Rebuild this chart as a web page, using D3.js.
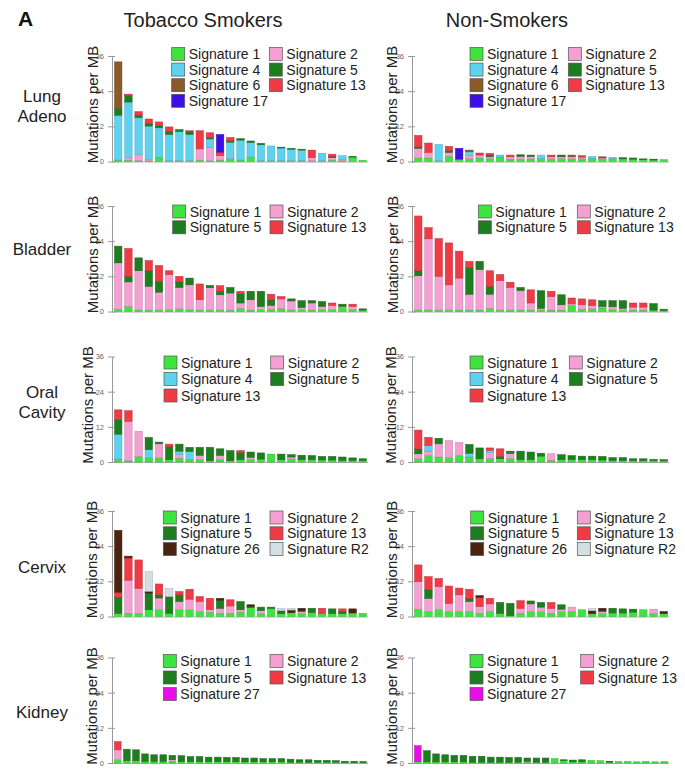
<!DOCTYPE html>
<html><head><meta charset="utf-8">
<script src="https://cdn.jsdelivr.net/npm/d3@7"></script>
<style>
body{margin:0;background:#fff;}
svg{display:block;font-family:"Liberation Sans",Arial,Helvetica,sans-serif;}
</style>
</head><body>
<svg id="chart" width="685" height="771"></svg>
<script>
// ---------- DATA ----------
const stackOrder = ["1","2","4","5","13","17","26","R2","6","27"]; // bottom -> top
const sigColors = {"1":"#3ee43e","2":"#f4a0d2","4":"#5fd2f0","5":"#1e7d1e","6":"#8b5a2b",
  "13":"#ee3b46","17":"#3d0ee6","26":"#4a2410","R2":"#d3dfe3","27":"#e80ee8"};
const yTicks = [0,12,24,36];
const columnTitles = ["Tobacco Smokers","Non-Smokers"];
const rowLabels = [["Lung","Adeno"],["Bladder"],["Oral","Cavity"],["Cervix"],["Kidney"]];
const yAxisTitle = "Mutations per MB";

const lungLegend = ["1","2","4","5","6","13","17"];
const bladderLegend = ["1","2","5","13"];
const oralLegend = ["1","2","4","5","13"];
const cervixLegend = ["1","2","5","13","26","R2"];
const kidneyLegend = ["1","2","5","13","27"];

const lungSmokers = [
 {1:0.5,4:15.3,5:2.2,6:16},{1:0.5,2:0.8,4:19,5:2.2,13:0.5},{1:0.3,2:2,4:12.7,5:0.8,13:1.2},
 {1:0.3,2:0.3,4:11.5,5:0.9,13:1.5},{1:1.5,4:10,5:0.8,13:1.2},{1:0.3,4:9,5:1,13:1.5},
 {1:0.3,4:9.9,5:0.7},{1:0.3,4:9,5:0.9,13:0.3},{1:0.5,2:3.8,13:6.2},
 {1:0.3,2:4.4,4:3,5:0.4,13:1.7},{1:0.5,2:1.5,13:1.2,17:6},{1:0.8,2:0.3,4:5.5,5:0.5,13:1.1},
 {1:0.5,4:6.8,5:0.5},{1:1.5,4:5,5:0.5},{1:0.3,4:5.4,5:0.5},{1:0.3,4:5.0},
 {1:0.3,4:4.3,5:0.3},{1:0.3,4:3.9,5:0.3},{1:0.3,4:3.6,5:0.3},{1:0.3,2:1,13:2.6},
 {1:0.3,4:2.5},{1:0.5,2:0.8,5:0.5,13:0.7},{1:0.3,2:0.3,4:1.4},{1:1.5,5:0.2},{1:0.4}
];
const lungNonSmokers = [
 {1:1.2,2:3.3,5:0.5,13:3.9},{1:1.2,2:1.9,13:3.2},{1:0.3,4:5.5},{1:1.8,2:1.3,5:0.6,13:1.5},
 {1:0.8,17:3.7},{1:1.0,2:1.0,4:1.3,6:0.6},{1:1.2,2:1.0,13:0.7},{1:1.0,2:0.6,5:0.6,13:0.6},
 {1:1.5,4:0.7},{1:0.8,2:0.8,13:0.6},{1:0.8,2:0.9,5:0.6},{1:0.9,2:0.8,5:0.5},
 {1:1.0,4:1.2},{1:0.9,2:0.7,13:0.6},{1:1.0,2:0.6,5:0.6},{1:0.9,2:0.7,6:0.6},
 {1:1.0,2:0.5,13:0.5},{1:1.1,4:0.6},{1:0.8,2:0.4,6:0.4},{1:1.0,4:0.4},
 {1:0.9,5:0.4},{1:0.8,5:0.4},{1:0.6,5:0.3},{1:0.5,5:0.3},{1:0.6}
];
const bladderSmokers = [
 {1:0.8,2:15.8,5:5.7},{1:1.7,2:8.4,5:1.9,13:9.5},{1:0.5,2:13.4,5:4.4},{1:0.5,2:8.1,5:5.3,13:3.5},
 {1:0.5,2:6.1,5:3.7,13:5.4},{1:0.6,2:12,13:1.3},{1:0.9,2:7.3,5:1.9,13:1.9},{1:0.6,2:8.5,5:2.3},
 {1:0.5,2:3.5,13:5.4},{1:0.5,2:7.6,5:0.8},{1:0.5,2:5.2,5:1.2,13:1.9},{1:0.5,2:5.8,5:1.9},
 {1:1.1,2:1.8,5:3.2,13:0.8},{1:0.5,2:3.5,5:2.9},{1:0.6,2:1.1,5:5.2},{1:0.8,2:1.3,5:1.9,13:1.9},
 {1:1.0,2:3.3,13:0.8},{1:0.5,2:3.1,5:0.7},{1:0.6,2:0.8,5:2.3},{1:0.5,2:2.4,5:0.8},
 {1:0.6,2:1.1,5:1.7},{1:0.6,2:1.5,13:0.8},{1:1.3,2:0.4,5:0.8},{1:0.6,2:1.1,13:0.8},{1:0.5,5:0.4}
];
const bladderNonSmokers = [
 {1:0.5,2:11.7,5:1.7,13:18.7},{1:0.5,2:24.3,13:3.8},{1:0.5,2:11.5,13:12.9},{1:0.5,2:8.6,13:14.3},
 {1:0.5,2:10.9,13:9.2},{1:0.5,2:5.4,5:9,13:2.2},{1:0.5,2:13.8,5:2.8},{1:1.1,2:4.8,5:2.7,13:5.3},
 {1:0.5,2:10,13:2.1},{1:0.5,2:7.7,13:1.8},{1:0.5,2:6.6,5:1.1},{1:0.5,2:2.4,13:4.5},
 {1:0.5,2:0.6,5:6.0},{1:0.5,2:4.6,13:1.8},{1:0.5,2:1.8,5:3.4},{1:2.0,2:0.6,13:2.0},
 {1:0.8,2:1.5,13:2.0},{1:0.9,2:1.1,13:2.0},{1:1.2,2:0.5,5:2.0},{1:0.6,2:1.0,5:2.1},
 {1:0.5,2:0.6,5:2.6},{1:0.5,2:1.0,13:1.4},{1:0.5,2:1.0,13:1.4},{1:0.5,5:2.2},{1:0.4,5:0.4}
];
const oralSmokers = [
 {1:1.0,4:8.5,5:4.9,13:3.4},{1:0.5,2:13.4,13:3.6},{1:1.9,2:8.6},{1:1.4,4:2.8,5:4.2},
 {1:1.4,2:4.8,5:0.6},{1:0.8,5:4.5,13:0.8},{1:1.3,2:1.2,4:1.2,5:2.4},{1:0.8,4:2.8,5:1.4},
 {1:0.8,2:1.5,5:2.7},{1:0.5,5:4.5},{1:0.8,2:1.5,5:2.2},{1:0.5,5:3.4},
 {1:0.8,5:2.5,13:0.6},{1:0.8,2:0.8,5:1.8},{1:1.0,5:2.1},{1:2.7},
 {1:0.8,5:1.9},{1:1.0,2:0.7,5:0.8},{1:0.8,5:1.5},{1:0.8,5:1.4},
 {1:0.7,5:1.2},{1:0.7,5:1.2},{1:0.6,5:1.1},{1:0.6,5:0.8},{1:0.5,5:0.6}
];
const oralNonSmokers = [
 {1:1.1,2:1.7,5:1.7,13:6.4},{1:2.2,2:1.5,4:1.9,13:2.8},{1:1.7,2:4.5,5:1.9},{1:1.5,2:5.8},
 {1:2.2,2:4.5},{1:1.7,4:1.3,5:3.0},{1:1.1,5:3.7},{1:1.2,2:2.0,4:0.8,13:0.8},
 {1:1.1,5:0.8,13:2.6},{1:1.2,2:1.7,5:0.8},{1:0.8,5:2.9},{1:0.8,5:2.6},
 {1:2.0,5:1.0},{1:0.6,2:2.2},{1:0.8,5:1.7},{1:0.8,5:1.4},
 {1:0.8,5:1.2},{1:0.8,5:1.2},{1:0.7,5:1.2},{1:0.6,5:0.9},
 {1:0.6,5:0.9},{1:0.5,5:0.6},{1:0.5,5:0.6},{1:0.5,5:0.4},{1:0.4,5:0.4}
];
const cervixSmokers = [
 {1:1.1,5:5.5,13:1.7,26:21.1},{1:1.1,2:11.3,26:0.6,13:7.6},{1:1.1,2:8.5,13:9.7},{1:2.3,5:5.7,26:0.6,R2:6.7},
 {1:2.3,2:4.0,5:1.1,13:3.7},{1:1.1,5:5.7,R2:2.8},{1:2.3,2:2.8,5:2.3,13:1.1},{1:2.3,2:3.6,13:3.4},
 {1:1.7,2:3.4,13:1.7},{1:1.5,2:0.8,13:3.9},{1:1.1,2:1.7,5:2.8,26:0.6},{1:1.1,2:2.5,13:2.1},
 {1:1.5,2:0.8,5:2.8},{1:3.0,5:0.4,26:0.6},{1:1.0,2:1.0,5:1.2},{1:2.8,5:0.4},
 {1:1.0,5:1.0,R2:0.8},{1:1.3,R2:0.6,26:0.9},{1:1.0,2:0.8,26:1.0},{1:1.3,5:1.5},
 {1:1.0,13:1.8},{1:1.0,5:1.6},{1:1.0,5:0.8,13:0.8},{1:1.2,26:1.4},{1:1.1}
];
const cervixNonSmokers = [
 {1:2.5,2:9.4,13:5.7},{1:1.7,2:4.5,5:2.9,13:4.5},{1:2.3,2:7.9,13:2.8},{1:1.7,2:2.8,13:5.9},
 {1:1.7,2:5.7,13:2.3},{1:1.7,2:3.4,5:1.1,13:3.1},{1:1.1,2:2.3,13:3.1,26:0.6},{1:1.7,2:2.6,13:1.9},
 {1:1.1,5:3.7},{1:0.3,5:4.2},{1:1.1,2:1.7,13:2.6},{1:1.7,2:2.6,5:1.0},
 {1:1.7,2:1.5,5:1.6},{1:1.1,2:1.7,13:2.0},{1:1.7,2:0.8,5:1.5},{1:1.7,2:1.5},
 {1:2.3},{1:1.0,R2:0.8,26:1.0},{1:1.0,2:0.8,26:1.0},{1:1.2,5:1.6},
 {1:1.2,5:1.4},{1:1.5,5:1.0},{1:2.3},{1:1.0,2:1.5},{1:1.0,26:0.7}
];
const kidneySmokers = [
 {1:1.1,2:3.4,13:2.8},{1:0.8,5:3.9},{1:0.8,5:3.7},{1:0.6,5:2.5},{1:0.6,5:2.2},{1:0.6,5:2.2},
 {1:0.6,2:0.5,5:1.5},{1:0.5,5:2.0},{1:0.5,5:1.7},{1:0.5,5:1.7},{1:0.5,5:1.5},{1:0.5,5:1.5},
 {1:0.5,5:1.4},{1:0.5,5:1.4},{1:0.4,5:1.3},{1:0.4,5:1.3},{1:0.4,5:1.1},{1:0.4,5:1.1},
 {1:0.4,5:1.1},{1:0.3,5:1.0},{1:0.3,5:0.8},{1:0.3,5:0.8},{1:0.3,5:0.6},{1:0.3,5:0.6},
 {1:0.3,5:0.5},{1:0.2,5:0.4},{1:0.2,5:0.4},{1:0.2,5:0.3}
];
const kidneyNonSmokers = [
 {1:0.5,27:5.4},{1:0.4,5:3.8},{1:0.4,5:2.7},{1:0.4,5:2.4},{1:0.4,5:2.2},{1:0.4,5:2.2},
 {1:0.3,5:2.0},{1:0.3,5:2.0},{1:0.3,5:1.7},{1:0.3,5:1.7},{1:0.3,5:1.6},{1:0.3,5:1.6},
 {1:0.3,2:0.3,5:1.1},{1:0.3,5:1.4},{1:0.3,5:1.4},{1:1.5},{1:0.8,5:0.3},{1:0.4,5:0.6},
 {1:0.4,5:0.7},{1:0.9},{1:0.8},{1:0.3,5:0.3},{1:0.5},{1:0.5},{1:0.4},{1:0.5},{1:0.4},{1:0.5}
];

// ---------- LAYOUT ----------
const rowY0 = [161.5, 311.5, 462, 616.5, 763];
const plotH = 105.5;
const axisX = [112, 412];
const barRange = [[114, 367], [414, 668]];
const rowLabelY = [[96,116],[249],[392,412],[567],[712]];

const panels = [
 {row:0,col:0,data:lungSmokers,legend:lungLegend,lx:[171.7,269.3],ly:-107.5,ls:15.6,tx:-20},
 {row:0,col:1,data:lungNonSmokers,legend:lungLegend,lx:[470,568.3],ly:-107.5,ls:15.6,tx:-21},
 {row:1,col:0,data:bladderSmokers,legend:bladderLegend,lx:[172.7,270],ly:-100,ls:15.8,tx:-20},
 {row:1,col:1,data:bladderNonSmokers,legend:bladderLegend,lx:[478.3,577.3],ly:-100,ls:15.8,tx:-20},
 {row:2,col:0,data:oralSmokers,legend:oralLegend,lx:[164,270.7],ly:-99.5,ls:16.5,tx:-25},
 {row:2,col:1,data:oralNonSmokers,legend:oralLegend,lx:[470,569.3],ly:-99.5,ls:16.5,tx:-22},
 {row:3,col:0,data:cervixSmokers,legend:cervixLegend,lx:[163.3,270],ly:-99,ls:15.8,tx:-21},
 {row:3,col:1,data:cervixNonSmokers,legend:cervixLegend,lx:[470.7,577.3],ly:-99,ls:15.8,tx:-21},
 {row:4,col:0,data:kidneySmokers,legend:kidneyLegend,lx:[163.3,270],ly:-102,ls:16.5,tx:-21},
 {row:4,col:1,data:kidneyNonSmokers,legend:kidneyLegend,lx:[470,580.7],ly:-102,ls:16.5,tx:-21}
];

const svg = d3.select("#chart");

// header
svg.append("text").attr("x",18).attr("y",26).text("A")
  .style("font-family","'Liberation Sans Narrow','Liberation Sans',Arial,sans-serif")
  .style("font-weight","bold").style("font-size","21px").attr("fill","#111");
const titleX = [203, 507];
columnTitles.forEach((t,i)=>{
  svg.append("text").attr("x",titleX[i]).attr("y",27).attr("text-anchor","middle")
    .style("font-size","20px").attr("fill","#222").text(t);
});

// row labels
rowLabels.forEach((lines,r)=>{
  lines.forEach((l,j)=>{
    svg.append("text").attr("x",42).attr("y",rowLabelY[r][j]).attr("text-anchor","middle")
      .attr("dominant-baseline","central").style("font-size","17px").attr("fill","#222").text(l);
  });
});

const stack = d3.stack().keys(stackOrder).value((d,k)=>d[k]||0);

panels.forEach(p=>{
  const y0 = rowY0[p.row];
  const g = svg.append("g");
  const x = d3.scaleBand().domain(d3.range(p.data.length)).range(barRange[p.col])
    .paddingInner(0.27).paddingOuter(0.05);
  const y = d3.scaleLinear().domain([0,36]).range([y0, y0-plotH]);

  // baseline
  g.append("line").attr("x1",axisX[p.col]).attr("x2",barRange[p.col][1]+1)
    .attr("y1",y(0)+0.5).attr("y2",y(0)+0.5).attr("stroke","#aaa").attr("stroke-width",1);

  // bars
  const series = stack(p.data);
  g.selectAll("g.s").data(series).join("g").attr("class","s")
    .attr("fill",s=>sigColors[s.key])
    .attr("stroke",s=>d3.color(sigColors[s.key]).darker(0.6))
    .attr("stroke-width",0.5)
    .selectAll("rect").data(s=>s.map((d,i)=>({d,i})).filter(o=>o.d[1]-o.d[0]>0)).join("rect")
    .attr("x",o=>x(o.i)).attr("width",x.bandwidth())
    .attr("y",o=>y(o.d[1])).attr("height",o=>y(o.d[0])-y(o.d[1]));

  // axis
  const ax = g.append("g").attr("transform",`translate(${axisX[p.col]},0)`)
    .call(d3.axisLeft(y).tickValues(yTicks).tickSizeInner(4).tickSizeOuter(0).tickPadding(4));
  ax.select(".domain").attr("stroke","#999");
  ax.selectAll(".tick line").attr("stroke","#999").attr("x1",3).attr("x2",-4);
  ax.selectAll(".tick text").attr("fill","#666").style("font-size","7.5px")
    .style("font-family","'Liberation Sans',Arial,sans-serif");

  // y title
  g.append("text").attr("transform",`translate(${axisX[p.col]+p.tx},${y0-57}) rotate(-90)`)
    .attr("text-anchor","middle").attr("dominant-baseline","central")
    .style("font-size","15px").attr("fill","#222").text(yAxisTitle);

  // legend
  p.legend.forEach((k,i)=>{
    const cx = p.lx[i%2], cy = y0 + p.ly + Math.floor(i/2)*p.ls;
    g.append("rect").attr("x",cx).attr("y",cy-6.5).attr("width",13).attr("height",13)
      .attr("fill",sigColors[k]).attr("stroke","#555").attr("stroke-width",0.7);
    g.append("text").attr("x",cx+17).attr("y",cy).attr("dominant-baseline","central")
      .style("font-size","14px").attr("fill","#222").text("Signature "+k);
  });
});
</script>
</body></html>
